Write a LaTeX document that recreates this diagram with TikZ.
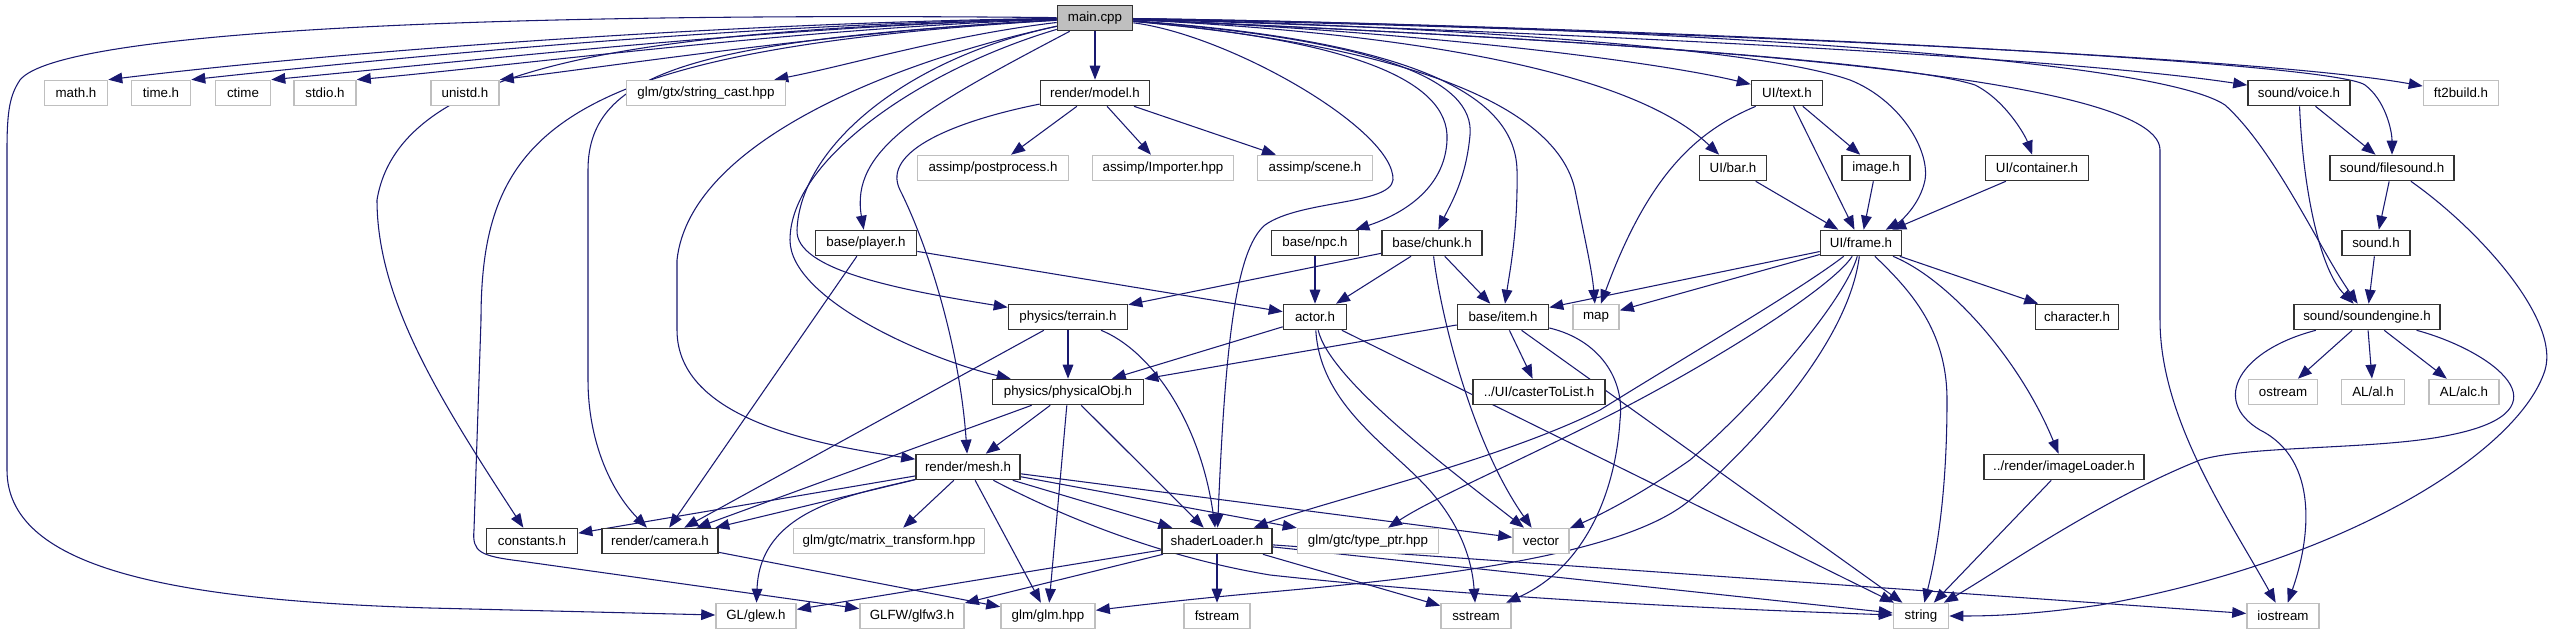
\documentclass[tikz,border=0pt]{standalone}
\usepackage{fontspec}
\setmainfont{Liberation Sans}
\usetikzlibrary{arrows.meta, backgrounds}
\definecolor{edgeblue}{HTML}{191970}
\definecolor{boxgray}{HTML}{BFBFBF}
\definecolor{boxdark}{HTML}{333333}

\begin{document}
\begin{tikzpicture}[x=0.75pt, y=-0.75pt, font=\fontsize{10}{12}\selectfont,
  hdr/.style={draw=boxdark, fill=white, line width=1.2pt, inner sep=0pt,
              minimum height=18.75pt, minimum width=#1*0.75pt},
  sys/.style={hdr=#1, draw=boxgray},
  root/.style={hdr=#1, fill=boxgray},
  incl/.style={draw=edgeblue, line width=0.8pt, -{Triangle[length=10.5pt, width=8pt]}},
]
  \useasboundingbox (0,0) rectangle (2554,635);

  \node[root=75] (main) at (1095,18) {main.cpp};

  \node[sys=63]  (mathh)    at (76,93)   {math.h};
  \node[sys=59]  (timeh)    at (161,93)  {time.h};
  \node[sys=55]  (ctime)    at (243,93)  {ctime};
  \node[sys=62]  (stdio)    at (325,93)  {stdio.h};
  \node[sys=68]  (unistd)   at (465,93)  {unistd.h};
  \node[sys=159] (strcast)  at (706,93)  {glm/gtx/string\_cast.hpp};
  \node[hdr=109] (model)    at (1095,93) {render/model.h};
  \node[hdr=71]  (uitext)   at (1787,93) {UI/text.h};
  \node[hdr=102] (voice)    at (2299,93) {sound/voice.h};
  \node[sys=75]  (ftbuild)  at (2461,93) {ft2build.h};

  \node[sys=151] (postproc)  at (993,168)  {assimp/postprocess.h};
  \node[sys=141] (importer)  at (1163,168) {assimp/Importer.hpp};
  \node[sys=115] (scene)     at (1315,168) {assimp/scene.h};
  \node[hdr=67]  (uibar)     at (1733,168) {UI/bar.h};
  \node[hdr=68]  (image)     at (1876,168) {image.h};
  \node[hdr=103] (container) at (2037,168) {UI/container.h};
  \node[hdr=124] (filesound) at (2392,168) {sound/filesound.h};

  \node[hdr=101] (player) at (866,243)  {base/player.h};
  \node[hdr=87]  (npc)    at (1315,243) {base/npc.h};
  \node[hdr=100] (chunk)  at (1432,243) {base/chunk.h};
  \node[hdr=81]  (frame)  at (1861,243) {UI/frame.h};
  \node[hdr=68]  (sound)  at (2376,243) {sound.h};

  \node[hdr=119] (terrain)   at (1068,317) {physics/terrain.h};
  \node[hdr=63]  (actor)     at (1315,317) {actor.h};
  \node[hdr=91]  (item)      at (1503,317) {base/item.h};
  \node[sys=46]  (map)       at (1596,317) {map};
  \node[hdr=83]  (character) at (2077,317) {character.h};
  \node[hdr=146] (engine)    at (2367,317) {sound/soundengine.h};

  \node[hdr=151] (physobj) at (1068,392) {physics/physicalObj.h};
  \node[hdr=132] (caster)  at (1539,392) {../UI/casterToList.h};
  \node[sys=69]  (ostream) at (2283,392) {ostream};
  \node[sys=63]  (alh)     at (2373,392) {AL/al.h};
  \node[sys=70]  (alch)    at (2464,392) {AL/alc.h};

  \node[hdr=104] (mesh)    at (968,467)  {render/mesh.h};
  \node[hdr=160] (imgload) at (2064,467) {../render/imageLoader.h};

  \node[hdr=91]  (constants) at (532,541)  {constants.h};
  \node[hdr=116] (camera)    at (660,541)  {render/camera.h};
  \node[sys=191] (mattrans)  at (889,541)  {glm/gtc/matrix\_transform.hpp};
  \node[hdr=110] (shader)    at (1217,541) {shaderLoader.h};
  \node[sys=141] (typeptr)   at (1368,541) {glm/gtc/type\_ptr.hpp};
  \node[sys=56]  (vector)    at (1541,541) {vector};

  \node[sys=80]  (glew)     at (756,616)  {GL/glew.h};
  \node[sys=104] (glfw)     at (912,616)  {GLFW/glfw3.h};
  \node[sys=94]  (glmhpp)   at (1048,616) {glm/glm.hpp};
  \node[sys=66]  (fstream)  at (1217,616) {fstream};
  \node[sys=70]  (sstream)  at (1476,616) {sstream};
  \node[sys=55]  (string)   at (1921,616) {string};
  \node[sys=72]  (iostream) at (2283,616) {iostream};

  \begin{scope}[on background layer]
  \foreach \a/\b in {main/model, model/postproc, model/importer, model/scene,
      uitext/image, uitext/frame, uibar/frame, image/frame, container/frame,
      voice/filesound, filesound/sound, sound/engine,
      player/actor, player/camera, npc/actor, chunk/actor, chunk/item, chunk/terrain,
      frame/item, frame/map, frame/character,
      terrain/physobj, terrain/camera, actor/physobj, actor/string,
      item/physobj, item/caster, item/string,
      physobj/mesh, physobj/glmhpp, physobj/shader, physobj/camera,
      mesh/mattrans, mesh/glmhpp, mesh/shader, mesh/constants, mesh/camera,
      mesh/typeptr, mesh/vector,
      engine/ostream, engine/alh, engine/alch, imgload/string, camera/glmhpp,
      shader/glew, shader/glfw, shader/fstream, shader/sstream, shader/string,
      shader/iostream}
    \draw[incl] (\a) -- (\b);

  % main.cpp, left half
  \draw[incl] (main) .. controls (750,22) and (350,50) .. (mathh.north east);
  \draw[incl] (main) .. controls (750,24) and (420,55) .. (timeh.north east);
  \draw[incl] (main) .. controls (780,26) and (480,60) .. (ctime.north east);
  \draw[incl] (main) .. controls (800,28) and (520,65) .. (stdio.north east);
  \draw[incl] (main) .. controls (850,30) and (620,65) .. (unistd.north east);
  \draw[incl] (main) .. controls (950,35) and (850,65) .. ([xshift=-9pt]strcast.north east);
  \draw[incl] (main) .. controls (500,12) and (60,30) .. (20,80)
              .. controls (10,95) and (7,110) .. (7,150) -- (7,470)
              .. controls (7,565) and (160,600) .. (430,608) -- (glew);
  \draw[incl] (main) .. controls (650,30) and (400,60) .. (377,200)
              .. controls (377,300) and (440,400) .. (constants);
  \draw[incl] (main) .. controls (560,50) and (481,130) .. (481,320) -- (474,530)
              .. controls (472,552) and (480,556) .. (520,561) -- (glfw);
  \draw[incl] (main) .. controls (700,40) and (588,70) .. (588,170) -- (588,380)
              .. controls (588,440) and (610,490) .. (camera);
  \draw[incl] (main) .. controls (900,60) and (690,140) .. (677,260) -- (677,330)
              .. controls (677,420) and (820,445) .. (mesh);
  \draw[incl] (main) .. controls (900,60) and (800,150) .. (797,230)
              .. controls (795,270) and (900,290) .. (terrain);
  \draw[incl] (main) .. controls (920,70) and (790,160) .. (790,240)
              .. controls (790,300) and (930,360) .. (physobj);
  \draw[incl] (main) .. controls (920,110) and (850,150) .. (player);

  % main.cpp, right half
  \draw[incl] (main) .. controls (1230,35) and (1395,130) .. (1393,180)
              .. controls (1390,205) and (1300,200) .. (1265,225)
              .. controls (1235,250) and (1225,350) .. (shader);
  \draw[incl] (main) .. controls (1350,40) and (1450,80) .. (1447,140)
              .. controls (1445,190) and (1400,215) .. (npc);
  \draw[incl] (main) .. controls (1380,40) and (1475,80) .. (1470,135)
              .. controls (1466,180) and (1450,205) .. (chunk);
  \draw[incl] (main) .. controls (1400,40) and (1515,90) .. (1517,170)
              .. controls (1518,230) and (1510,270) .. (item);
  \draw[incl] (main) .. controls (1450,50) and (1560,120) .. (1575,190)
              .. controls (1585,240) and (1592,270) .. (map);
  \draw[incl] (main) .. controls (1400,30) and (1650,60) .. (uitext);
  \draw[incl] (main) .. controls (1350,30) and (1620,60) .. (uibar);
  \draw[incl] (main) .. controls (1400,25) and (1750,45) .. (1850,80)
              .. controls (1900,100) and (1930,150) .. (1925,180)
              .. controls (1920,205) and (1900,222) .. (frame);
  \draw[incl] (main) .. controls (1500,35) and (1900,60) .. (1975,85)
              .. controls (2005,100) and (2025,135) .. (container);
  \draw[incl] (main) .. controls (1500,30) and (2050,55) .. (voice);
  \draw[incl] (main) .. controls (1600,28) and (2250,55) .. (ftbuild);
  \draw[incl] (main) .. controls (1600,25) and (2330,60) .. (2365,85)
              .. controls (2385,100) and (2392,130) .. (filesound);
  \draw[incl] (main) .. controls (1600,25) and (2150,55) .. (2225,105)
              .. controls (2275,150) and (2320,250) .. (engine);
  \draw[incl] (main) .. controls (1600,40) and (2160,70) .. (2160,150) -- (2160,320)
              .. controls (2160,420) and (2230,520) .. (iostream);

  % headers
  \draw[incl] (model) .. controls (960,120) and (880,150) .. (900,190)
              .. controls (930,250) and (960,350) .. (mesh);
  \draw[incl] (uitext) .. controls (1700,130) and (1650,170) .. (map);
  \draw[incl] (voice) .. controls (2303,190) and (2320,270) .. (engine);
  \draw[incl] (filesound) .. controls (2480,230) and (2560,320) .. (2545,370)
              .. controls (2520,450) and (2350,560) .. (2100,605)
              .. controls (2030,615) and (1990,616) .. (string);
  \draw[incl] (engine) .. controls (2240,350) and (2210,400) .. (2260,430)
              .. controls (2320,460) and (2310,540) .. (iostream);
  \draw[incl] (engine) .. controls (2490,350) and (2575,410) .. (2450,435)
              .. controls (2380,450) and (2250,445) .. (2200,460)
              .. controls (2100,500) and (2000,570) .. (string);
  \draw[incl] (chunk) .. controls (1440,310) and (1470,440) .. (vector);
  \draw[incl] (frame) .. controls (1950,280) and (2020,360) .. (imgload);
  \draw[incl] (frame) .. controls (1910,290) and (1947,330) .. (1947,400)
              .. controls (1947,500) and (1935,560) .. (string);
  \draw[incl] (frame) .. controls (1845,300) and (1760,400) .. (1690,460)
              .. controls (1640,495) and (1600,515) .. (vector);
  \draw[incl] (frame) .. controls (1830,290) and (1700,370) .. (1600,420)
              .. controls (1500,470) and (1430,500) .. (typeptr);
  \draw[incl] (frame) .. controls (1800,290) and (1680,360) .. (1600,410)
              .. controls (1500,460) and (1330,500) .. (shader);
  \draw[incl] (frame) .. controls (1850,330) and (1780,420) .. (1690,500)
              .. controls (1620,560) and (1400,580) .. (1270,592)
              .. controls (1200,598) and (1140,605) .. (glmhpp);
  \draw[incl] (terrain) .. controls (1150,350) and (1200,420) .. (shader);
  \draw[incl] (actor) .. controls (1330,380) and (1450,470) .. (vector);
  \draw[incl] (actor) .. controls (1320,400) and (1380,440) .. (1420,480)
              .. controls (1460,520) and (1472,560) .. (sstream);
  \draw[incl] (item) .. controls (1600,340) and (1625,380) .. (1620,420)
              .. controls (1615,500) and (1580,570) .. (sstream);
  \draw[incl] (mesh) .. controls (850,495) and (760,510) .. (glew);
  \draw[incl] (mesh) .. controls (1050,510) and (1150,555) .. (1270,575)
              .. controls (1500,600) and (1750,610) .. (string);
  \end{scope}
\end{tikzpicture}
\end{document}
